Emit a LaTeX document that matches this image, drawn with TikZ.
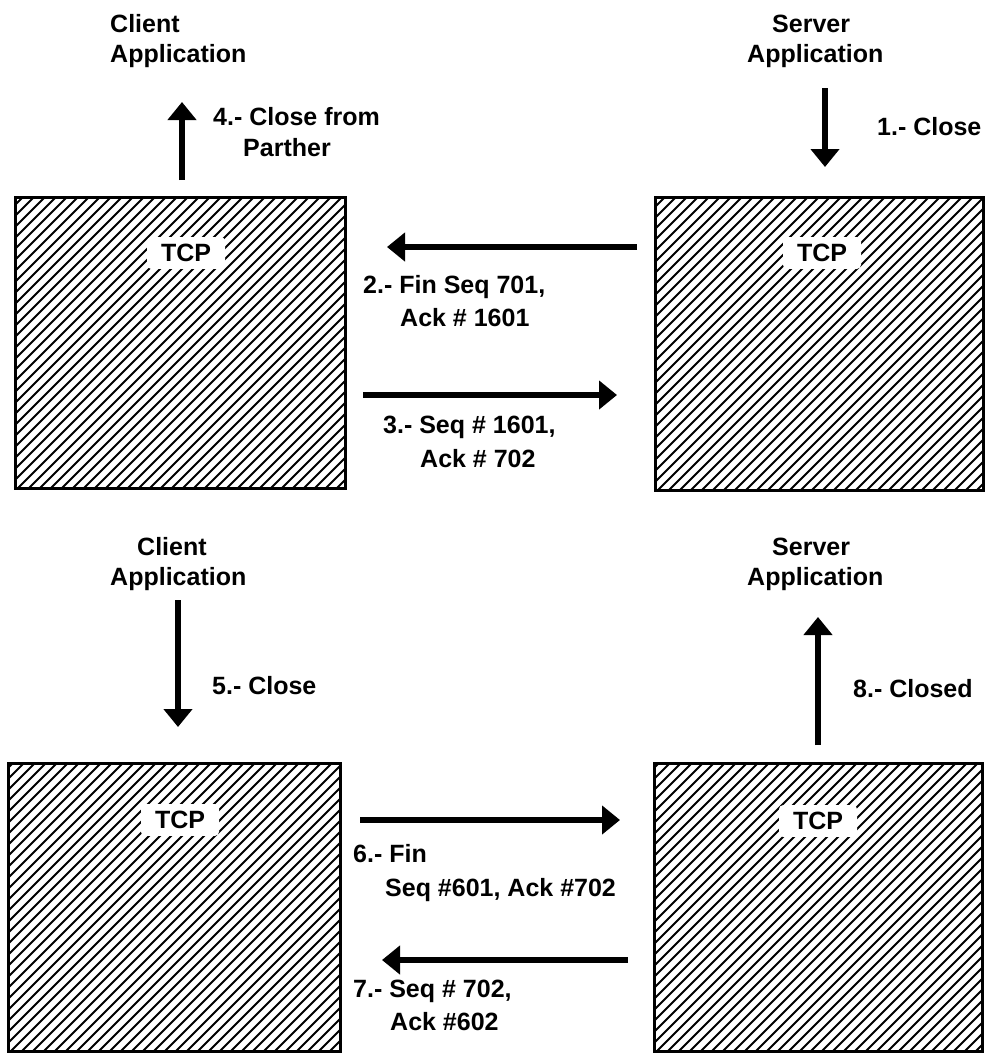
\documentclass[tikz,border=0pt]{standalone}
\usepackage{fontspec}
\setmainfont{Liberation Sans}
\usetikzlibrary{arrows.meta}
\tikzset{
  lbl/.style={anchor=base west, inner sep=0pt, font=\bfseries\fontsize{25}{30}\selectfont},
  tcplbl/.style={fill=white, rounded corners=4pt, inner xsep=14pt, inner ysep=7pt, font=\bfseries\fontsize{25}{30}\selectfont},
  frame/.style={draw=black, line width=3pt, rectangle, inner sep=0pt},
  hatchline/.style={line width=2pt, black},
  bigarrow/.style={line width=6.5pt, -{Triangle[length=18pt,width=28pt]}},
}
\newcommand\hatchedbox[5]{%
  \begin{scope}
    \clip (#2,#3) rectangle (#4,#5);
    \foreach \k in {0,...,62} \draw[hatchline] ({#2-310+\k*11},{#5+5}) -- ++(330,-330);
  \end{scope}
  \node[frame, minimum width={#4-#2}, minimum height={#5-#3}] (#1) at ({(#2+#4)/2},{(#3+#5)/2}) {};
}
\begin{document}
\begin{tikzpicture}[x=1pt,y=-1pt]
\useasboundingbox (0,0) rectangle (994,1053);
\fill[white] (0,0) rectangle (994,1053);

% boxes
\hatchedbox{tl}{15}{197}{345}{488}
\hatchedbox{tr}{655}{197}{983}{490}
\hatchedbox{bl}{8}{763}{340}{1051}
\hatchedbox{br}{654}{763}{982}{1051}

\node[tcplbl] (tcptl) at (186,253) {TCP};
\node[tcplbl] (tcptr) at (822,253) {TCP};
\node[tcplbl] (tcpbl) at (180,820) {TCP};
\node[tcplbl] (tcpbr) at (818,821) {TCP};

% top titles
\node[lbl] (ca1a) at (110,32) {Client};
\node[lbl] (ca1b) at (110,62) {Application};
\node[lbl] (sa1a) at (772,32) {Server};
\node[lbl] (sa1b) at (747,62) {Application};

% bottom titles
\node[lbl] (ca2a) at (137,555) {Client};
\node[lbl] (ca2b) at (110,585) {Application};
\node[lbl] (sa2a) at (772,555) {Server};
\node[lbl] (sa2b) at (747,585) {Application};

% vertical arrows
\coordinate (a1s) at (825,88);  \coordinate (a1e) at (825,167);
\coordinate (a4s) at (182,180); \coordinate (a4e) at (182,102);
\coordinate (a5s) at (178,600); \coordinate (a5e) at (178,727);
\coordinate (a8s) at (818,745); \coordinate (a8e) at (818,617);
\draw[bigarrow] (a1s) -- (a1e);
\draw[bigarrow] (a4s) -- (a4e);
\draw[bigarrow] (a5s) -- (a5e);
\draw[bigarrow] (a8s) -- (a8e);

% horizontal arrows
\coordinate (a2s) at (637,247); \coordinate (a2e) at (387,247);
\coordinate (a3s) at (363,395); \coordinate (a3e) at (617,395);
\coordinate (a6s) at (360,820); \coordinate (a6e) at (620,820);
\coordinate (a7s) at (628,960); \coordinate (a7e) at (382,960);
\draw[bigarrow] (a2s) -- (a2e);
\draw[bigarrow] (a3s) -- (a3e);
\draw[bigarrow] (a6s) -- (a6e);
\draw[bigarrow] (a7s) -- (a7e);

% labels
\node[lbl] (l1) at (877,135) {1.- Close};
\node[lbl] (l4a) at (213,125) {4.- Close from};
\node[lbl] (l4b) at (243,156) {Parther};
\node[lbl] (l2a) at (363,293) {2.- Fin Seq 701,};
\node[lbl] (l2b) at (400,326) {Ack \# 1601};
\node[lbl] (l3a) at (383,433) {3.- Seq \# 1601,};
\node[lbl] (l3b) at (420,467) {Ack \# 702};
\node[lbl] (l5) at (212,694) {5.- Close};
\node[lbl] (l8) at (853,697) {8.- Closed};
\node[lbl] (l6a) at (353,862) {6.- Fin};
\node[lbl] (l6b) at (385,896) {Seq \#601, Ack \#702};
\node[lbl] (l7a) at (353,997) {7.- Seq \# 702,};
\node[lbl] (l7b) at (390,1030) {Ack \#602};
\end{tikzpicture}
\end{document}
